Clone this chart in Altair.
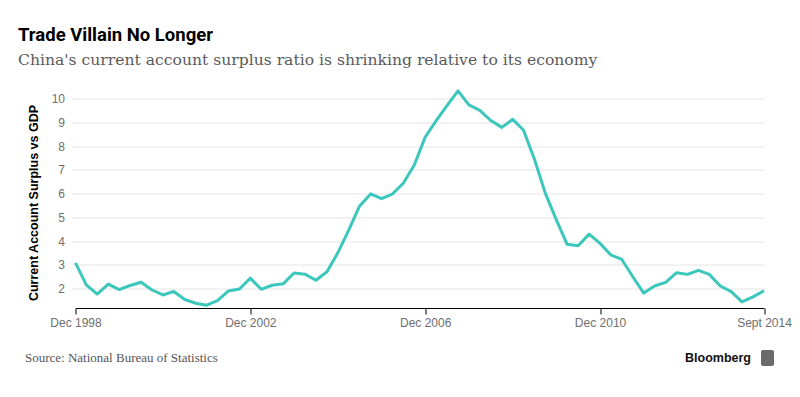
import altair as alt
import pandas as pd

# Quarterly observations, Dec 1998 .. Sept 2014
START_YEAR, START_MONTH = 1998, 12
values = [3.08, 2.15, 1.76, 2.18, 1.95, 2.12, 2.26, 1.93, 1.72, 1.87,
          1.53, 1.37, 1.29, 1.48, 1.89, 1.97, 2.43, 1.96, 2.13, 2.19,
          2.65, 2.60, 2.34, 2.70, 3.50, 4.45, 5.48, 5.99, 5.79, 5.98,
          6.44, 7.21, 8.39, 9.07, 9.72, 10.34, 9.75, 9.52, 9.09, 8.80,
          9.14, 8.69, 7.45, 6.00, 4.89, 3.86, 3.80, 4.29, 3.90, 3.41,
          3.22, 2.49, 1.80, 2.10, 2.25, 2.66, 2.59, 2.76, 2.59, 2.10,
          1.86, 1.43, 1.64, 1.90]

dates = []
for i in range(len(values)):
    m = START_MONTH - 1 + 3 * i
    dates.append(f"{START_YEAR + m // 12}-{m % 12 + 1:02d}-15")

x_tick_dates = ["1998-12-15", "2002-12-15", "2006-12-15", "2010-12-15", "2014-09-15"]
y_ticks = [2, 3, 4, 5, 6, 7, 8, 9, 10]

TITLE = "Trade Villain No Longer"
SUBTITLE = "China's current account surplus ratio is shrinking relative to its economy"
SOURCE = "Source: National Bureau of Statistics"
BRAND = "Bloomberg"
Y_TITLE = "Current Account Surplus vs GDP"

df = pd.DataFrame({"date": dates, "value": values})

GRID = "#e4e4e4"
LABEL = "#6e6e6e"

line = alt.Chart(df).mark_line(color="#3cc7bd", strokeWidth=3, strokeJoin="round").encode(
    x=alt.X("date:T",
            scale=alt.Scale(domain=[dates[0], dates[-1]], nice=False),
            axis=alt.Axis(values=x_tick_dates, format="%b %Y",
                          labelExpr="datum.label == 'Sep 2014' ? 'Sept 2014' : datum.label",
                          grid=False, domainColor="black", tickColor="black",
                          tickSize=6, labelPadding=3, labelFlush=False, labelOverlap=False,
                          labelColor=LABEL, labelFont="Liberation Sans", labelFontSize=12,
                          title=None)),
    y=alt.Y("value:Q",
            scale=alt.Scale(domain=[1.17, 10.4], nice=False, zero=False),
            axis=alt.Axis(values=y_ticks, grid=True, gridColor=GRID, domain=False,
                          tickSize=4, tickColor=GRID, labelPadding=7,
                          labelColor=LABEL, labelFont="Liberation Sans", labelFontSize=12,
                          title=Y_TITLE, titleFont="Liberation Sans", titleFontSize=12.5,
                          titleFontWeight="bold", titleColor="black",
                          titleAngle=270, titleX=-42, titleY=113,
                          titleAlign="center", titleBaseline="middle")),
)

def text_layer(txt, x, y, font, size, weight, color):
    return alt.Chart(alt.Data(values=[{"t": txt}])).mark_text(
        align="left", baseline="alphabetic", font=font, fontSize=size,
        fontWeight=weight, color=color
    ).encode(text="t:N", x=alt.value(x), y=alt.value(y))

title = text_layer(TITLE, -57.5, -48.5, "Roboto", 18.5, "bold", "black")
subtitle = text_layer(SUBTITLE, -57.5, -24.5, "DejaVu Serif", 15.6, "normal", "#5a5a5a")
source = text_layer(SOURCE, -50.5, 272.5, "Liberation Serif", 13, "normal", "#555555")
brand = text_layer(BRAND, 609.5, 272.5, "Liberation Sans", 12.5, "bold", "#111111")

icon = alt.Chart(alt.Data(values=[{"k": 1}])).mark_rect(
    color="#6a6a6a", cornerRadius=2
).encode(x=alt.value(685.5), x2=alt.value(698.5), y=alt.value(260.5), y2=alt.value(276.5))

chart = alt.layer(line, title, subtitle, source, brand, icon).properties(
    width=688.5, height=218.5,
    background="white",
    autosize=alt.AutoSizeParams(type="none"),
    padding={"left": 67.5, "top": 81.5, "right": 28, "bottom": 81},
).configure_view(stroke=None)

chart.save("out.html", embed_options={"renderer": "svg", "actions": False})
